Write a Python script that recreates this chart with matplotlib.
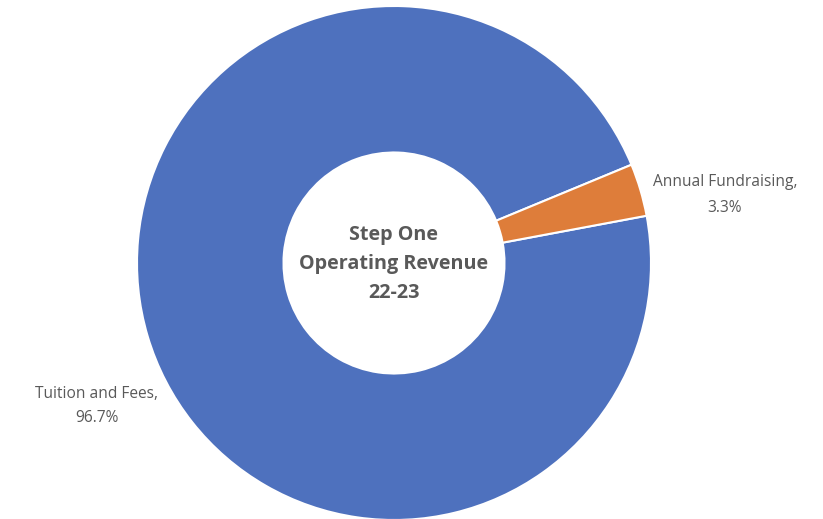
import matplotlib.pyplot as plt

# data
categories = ['Tuition and Fees', 'Annual Fundraising']
shares = [96.7, 3.3]
colors = ['#4E71BE', '#DE7D3A']
center_title = 'Step One\nOperating Revenue\n22-23'

plt.rcParams['font.family'] = ['Open Sans', 'DejaVu Sans']

W, H = 823, 519
fig = plt.figure(figsize=(W / 100, H / 100), dpi=100)
ax = fig.add_axes([0, 0, 1, 1])

cx, cy = 394, H - 263
R = 257
wedges, _ = ax.pie(shares, colors=colors, startangle=10.6, counterclock=False,
                   center=(cx, cy), radius=R,
                   wedgeprops=dict(width=R * 0.57, edgecolor='white', linewidth=1.5))

ax.set_xlim(0, W)
ax.set_ylim(0, H)
ax.set_aspect('equal')
ax.axis('off')

# slice labels
label_pos = [(97, H - 406), (725, H - 195)]
for name, val, (x, y) in zip(categories, shares, label_pos):
    ax.text(x, y, f'{name},\n{val}%', ha='center', va='center',
            fontsize=11.2, color='#595959', linespacing=1.75)

ax.text(cx, cy - 1, center_title, ha='center', va='center', fontsize=14.2,
        fontweight='bold', color='#595959', linespacing=1.6)

fig.savefig('out.png', dpi=100, facecolor='white')
